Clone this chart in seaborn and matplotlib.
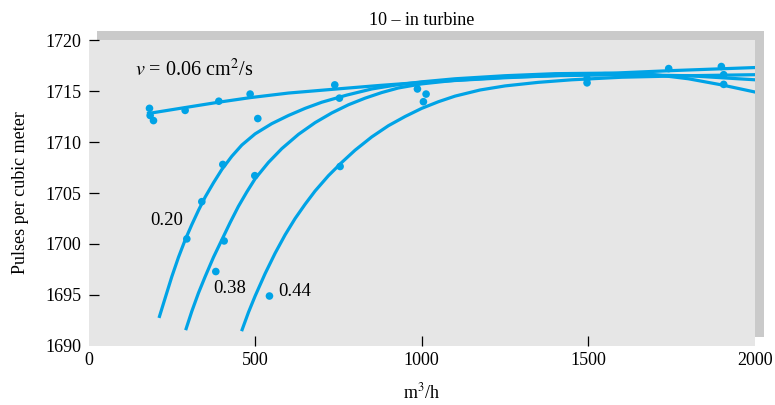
import matplotlib

matplotlib.use("Agg")

import matplotlib.pyplot as plt
import pandas as pd
import seaborn as sns
from matplotlib.patches import Rectangle

# curves (flow in m3/h, pulses per cubic meter)
curve_006_x = [180, 275, 390, 485, 600, 745, 875, 1000, 1250, 1500, 1750, 2000]
curve_006_y = [1712.8, 1713.3, 1713.9, 1714.35, 1714.8, 1715.2, 1715.55, 1715.85,
               1716.3, 1716.65, 1717.0, 1717.3]

curve_020_x = [213, 230, 250, 270, 290, 310, 330, 350, 375, 400, 430, 460, 500,
               550, 600, 650, 700, 775, 850, 925, 1000, 1100, 1250, 1400, 1550,
               1700, 1800, 1900, 2000]
curve_020_y = [1692.9, 1694.7, 1696.8, 1698.7, 1700.4, 1701.9, 1703.3, 1704.6,
               1706.0, 1707.3, 1708.6, 1709.7, 1710.8, 1711.8, 1712.6, 1713.3,
               1713.9, 1714.6, 1715.2, 1715.6, 1715.9, 1716.2, 1716.5, 1716.7,
               1716.75, 1716.6, 1716.2, 1715.6, 1714.9]

curve_038_x = [293, 310, 330, 350, 375, 400, 425, 450, 475, 500, 540, 580, 630,
               680, 730, 780, 830, 880, 930, 1000, 1100, 1250, 1400, 1600, 1800, 2000]
curve_038_y = [1691.7, 1693.4, 1695.2, 1696.8, 1698.7, 1700.4, 1702.1, 1703.7,
               1705.1, 1706.4, 1708.0, 1709.35, 1710.75, 1711.9, 1712.85, 1713.65,
               1714.3, 1714.85, 1715.3, 1715.7, 1716.05, 1716.35, 1716.5, 1716.6,
               1716.5, 1716.1]

curve_044_x = [461, 480, 500, 530, 560, 590, 620, 650, 680, 720, 760, 800, 850,
               900, 950, 1000, 1050, 1100, 1175, 1250, 1350, 1450, 1600, 1800, 2000]
curve_044_y = [1691.6, 1693.3, 1694.9, 1697.1, 1699.1, 1700.9, 1702.5, 1703.9,
               1705.2, 1706.7, 1708.0, 1709.2, 1710.5, 1711.6, 1712.5, 1713.3,
               1713.95, 1714.5, 1715.1, 1715.5, 1715.85, 1716.1, 1716.35, 1716.5,
               1716.6]

# measured points
point_x = [183, 185, 195, 290, 391, 485, 508, 739, 753, 987, 1013, 1005,
           403, 499, 755, 340, 295, 407, 382, 543,
           1496, 1496, 1741, 1899, 1906, 1906]
point_y = [1713.3, 1712.6, 1712.1, 1713.1, 1714.0, 1714.7, 1712.3, 1715.6, 1714.3,
           1715.2, 1714.7, 1713.95, 1707.8, 1706.7, 1707.6, 1704.15, 1700.5,
           1700.3, 1697.3, 1694.9, 1716.2, 1715.8, 1717.2, 1717.4, 1716.6, 1715.65]

curve_names = ["0.06", "0.20", "0.38", "0.44"]
x_ticks = [0, 500, 1000, 1500, 2000]
y_ticks = [1690, 1695, 1700, 1705, 1710, 1715, 1720]

blue = "#00a3e6"

plt.rcParams["font.family"] = ["Liberation Serif", "DejaVu Serif"]
plt.rcParams["mathtext.fontset"] = "stix"

curves_df = pd.concat(
    [
        pd.DataFrame({"Flow": xs, "Pulses": ys, "Curve": name})
        for name, xs, ys in zip(
            curve_names,
            [curve_006_x, curve_020_x, curve_038_x, curve_044_x],
            [curve_006_y, curve_020_y, curve_038_y, curve_044_y],
        )
    ],
    ignore_index=True,
)
points_df = pd.DataFrame({"Flow": point_x, "Pulses": point_y})

fig = plt.figure(figsize=(7.75, 4.05), dpi=100)
ax = fig.add_axes([0.1142, 0.1457, 0.8600, 0.7555])
ax.set_facecolor("#e6e6e6")

# grey offset frame behind the plot area
shadow = Rectangle((0.1258, 0.1679), 0.8600, 0.7555, transform=fig.transFigure,
                   facecolor="#cacaca", edgecolor="none", zorder=-1)
fig.add_artist(shadow)

sns.lineplot(data=curves_df, x="Flow", y="Pulses", units="Curve", estimator=None,
             sort=False, color=blue, linewidth=2.3, ax=ax, legend=False)
sns.scatterplot(data=points_df, x="Flow", y="Pulses", color=blue, s=30,
                edgecolor="none", ax=ax, legend=False, zorder=3)

ax.set_xlim(0, 2000)
ax.set_ylim(1690, 1720)
ax.set_xticks(x_ticks)
ax.set_yticks(y_ticks)
for side in ["top", "right", "bottom", "left"]:
    ax.spines[side].set_visible(False)
ax.tick_params(axis="both", direction="in", length=7, width=0.9, color="black",
               labelsize=13)
ax.tick_params(axis="x", pad=4)
ax.tick_params(axis="y", pad=5)
for tick in [ax.xaxis.get_major_ticks()[0], ax.xaxis.get_major_ticks()[-1]]:
    tick.tick1line.set_visible(False)
ax.yaxis.get_major_ticks()[0].tick1line.set_visible(False)

ax.set_xlabel("m$^3$/h", fontsize=13, labelpad=10)
ax.set_ylabel("Pulses per cubic meter", fontsize=13, labelpad=12)
ax.set_title("10 – in turbine", fontsize=13, pad=11)

ax.text(140, 1717.1, "$v$ = 0.06 cm$^2$/s", fontsize=14.5, va="center", ha="left")
ax.text(185, 1702.35, "0.20", fontsize=13.5, va="center", ha="left")
ax.text(374, 1695.6, "0.38", fontsize=13.5, va="center", ha="left")
ax.text(569, 1695.3, "0.44", fontsize=13.5, va="center", ha="left")

fig.savefig("out.png", dpi=100)
plt.close(fig)
